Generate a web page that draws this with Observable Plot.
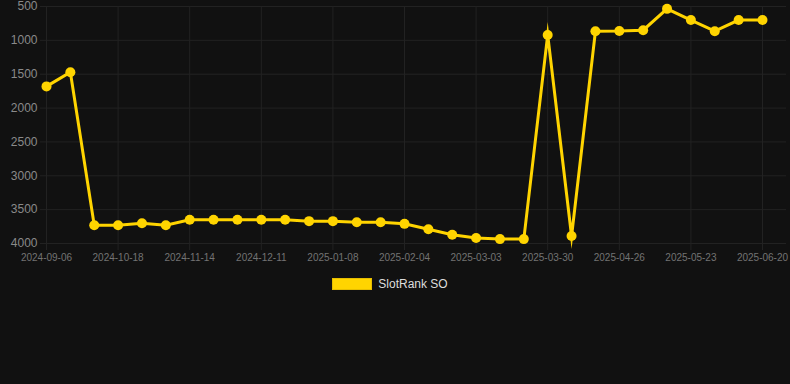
<!DOCTYPE html>
<html><head><meta charset="utf-8">
<script src="https://cdn.jsdelivr.net/npm/d3@7"></script>
<script src="https://cdn.jsdelivr.net/npm/@observablehq/plot@0.6"></script>
<style>
html,body{margin:0;padding:0;background:#111111;}
body{width:790px;height:384px;overflow:hidden;font-family:"Liberation Sans",Arial,Helvetica,sans-serif;}
#chart svg{display:block;}
#legend{display:flex;justify-content:center;align-items:center;margin-top:8px;height:12px;padding-right:10px;}
#legend .box{width:38px;height:10px;border:1px solid #e6be00;margin-right:6px;}
#legend .txt{font-size:12px;color:#dddddd;line-height:12px;}
</style></head><body>
<div id="chart"></div>
<div id="legend"></div>
<script>
const seriesName = "SlotRank SO";
const dates = [
  "2024-09-06","2024-09-20","2024-10-04","2024-10-18","2024-10-27","2024-11-05",
  "2024-11-14","2024-11-23","2024-12-02","2024-12-11","2024-12-20","2024-12-30",
  "2025-01-08","2025-01-17","2025-01-26","2025-02-04","2025-02-13","2025-02-22",
  "2025-03-03","2025-03-12","2025-03-21","2025-03-30","2025-04-08","2025-04-17",
  "2025-04-26","2025-05-05","2025-05-14","2025-05-23","2025-06-01","2025-06-11",
  "2025-06-20"
];
const ranks = [
  1680, 1470, 3730, 3730, 3700, 3730,
  3650, 3650, 3650, 3650, 3650, 3670,
  3670, 3685, 3685, 3710, 3790, 3870,
  3920, 3935, 3935, 920, 3890, 865,
  862, 850, 535, 700, 865, 700,
  700
];
const xTickLabels = [
  "2024-09-06","2024-10-18","2024-11-14","2024-12-11","2025-01-08","2025-02-04",
  "2025-03-03","2025-03-30","2025-04-26","2025-05-23","2025-06-20"
];
const yTickValues = [500, 1000, 1500, 2000, 2500, 3000, 3500, 4000];

const lineColor = "#ffd400";
const gridColor = "#222222";
const data = dates.map((d, i) => ({idx: i, date: d, rank: ranks[i]}));
const xTickIdx = xTickLabels.map(l => dates.indexOf(l));

const chart = Plot.plot({
  width: 790, height: 270,
  marginLeft: 40, marginRight: 4, marginTop: 6, marginBottom: 27,
  style: {background: "#111111", fontFamily: "'Liberation Sans', Arial, sans-serif", overflow: "visible"},
  x: {type: "linear", domain: [0, dates.length - 1], range: [46, 762]},
  y: {domain: [500, 4000], reverse: true},
  marks: [
    Plot.ruleY(yTickValues, {stroke: gridColor, strokeWidth: 1}),
    Plot.ruleX(xTickIdx, {stroke: gridColor, strokeWidth: 1}),
    Plot.axisY({ticks: yTickValues, tickSize: 0, tickPadding: 3, fontSize: 12, fill: "#8a8a8a", tickFormat: d => String(d), label: null}),
    Plot.axisX({ticks: xTickIdx, tickSize: 7, tickPadding: 3, fontSize: 10, fill: "#737373", stroke: gridColor, tickFormat: i => dates[i], label: null}),
    Plot.line(data, {x: "idx", y: "rank", stroke: lineColor, strokeWidth: 3, strokeLinejoin: "miter", strokeMiterlimit: 10}),
    Plot.dot(data, {x: "idx", y: "rank", r: 5, fill: lineColor})
  ]
});
document.getElementById("chart").appendChild(chart);

const legend = document.getElementById("legend");
const box = document.createElement("div");
box.className = "box";
box.style.background = lineColor;
const txt = document.createElement("span");
txt.className = "txt";
txt.textContent = seriesName;
legend.appendChild(box);
legend.appendChild(txt);
</script>
</body></html>
